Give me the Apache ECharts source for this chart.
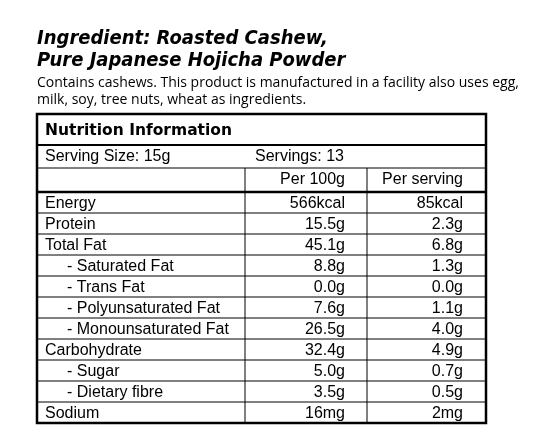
<!DOCTYPE html>
<html>
<head>
<meta charset="utf-8">
<script src="https://cdn.jsdelivr.net/npm/echarts@6/dist/echarts.min.js"></script>
<style>html,body{margin:0;padding:0;background:#fff}#main{width:533px;height:448px}</style>
</head>
<body>
<div id="main"></div>
<script>
var titleLines = ['Ingredient: Roasted Cashew,', 'Pure Japanese Hojicha Powder'];
var noteLines = ['Contains cashews. This product is manufactured in a facility also uses egg,', 'milk, soy, tree nuts, wheat as ingredients.'];
var tableTitle = 'Nutrition Information';
var servingSize = 'Serving Size: 15g';
var servings = 'Servings: 13';
var colHeaders = ['Per 100g', 'Per serving'];
var nutrients = ['Energy', 'Protein', 'Total Fat', '- Saturated Fat', '- Trans Fat', '- Polyunsaturated Fat', '- Monounsaturated Fat', 'Carbohydrate', '- Sugar', '- Dietary fibre', 'Sodium'];
var per100g = ['566kcal', '15.5g', '45.1g', '8.8g', '0.0g', '7.6g', '26.5g', '32.4g', '5.0g', '3.5g', '16mg'];
var perServing = ['85kcal', '2.3g', '6.8g', '1.3g', '0.0g', '1.1g', '4.0g', '4.9g', '0.7g', '0.5g', '2mg'];

var myChart = echarts.init(document.getElementById('main'));
var L = 37, R = 486, T = 114, C1 = 245, C2 = 367;
var rowTop = 192, rowH = 21;
var font = '16px "Liberation Sans", Arial, sans-serif';
var els = [];

function txt(x, y, s, f, align) {
	els.push({type: 'text', x: x, y: y, style: {text: s, font: f, fill: '#000', textAlign: align || 'left', textVerticalAlign: 'middle'}});
}
function line(x1, y1, x2, y2, w) {
	els.push({type: 'line', shape: {x1: x1, y1: y1, x2: x2, y2: y2}, style: {stroke: '#000', lineWidth: w}});
}

for (var i = 0; i < titleLines.length; i++) {
	txt(37, 39 + i * 22, titleLines[i], 'italic bold 20px "Liberation Sans Narrow", "DejaVu Sans Condensed", sans-serif');
}
for (var i = 0; i < noteLines.length; i++) {
	txt(37, 83 + i * 17, noteLines[i], '14px "Liberation Sans Narrow", "Open Sans", sans-serif');
}

txt(45, 131, tableTitle, 'bold 15.5px "DejaVu Sans", sans-serif');
line(L, 145, R, 145, 2);
txt(45, 157, servingSize, font);
txt(255, 157, servings, font);
line(L, 168, R, 168, 1);
txt(345, 180, colHeaders[0], font, 'right');
txt(463, 180, colHeaders[1], font, 'right');
line(L, rowTop, R, rowTop, 2.5);

for (var i = 0; i < nutrients.length; i++) {
	var cy = rowTop + rowH * i + rowH / 2;
	var indent = nutrients[i].charAt(0) === '-' ? 67 : 45;
	txt(indent, cy + 1, nutrients[i], font);
	txt(345, cy + 1, per100g[i], font, 'right');
	txt(463, cy + 1, perServing[i], font, 'right');
	if (i < nutrients.length - 1) line(L, rowTop + rowH * (i + 1), R, rowTop + rowH * (i + 1), 1);
}
var bottom = rowTop + rowH * nutrients.length;
line(C1, 168, C1, bottom, 1);
line(C2, 168, C2, bottom, 1);
els.push({type: 'rect', shape: {x: L, y: T, width: R - L, height: bottom - T}, style: {fill: null, stroke: '#000', lineWidth: 2.5}});

myChart.setOption({animation: false, graphic: {elements: els}});
</script>
</body>
</html>
